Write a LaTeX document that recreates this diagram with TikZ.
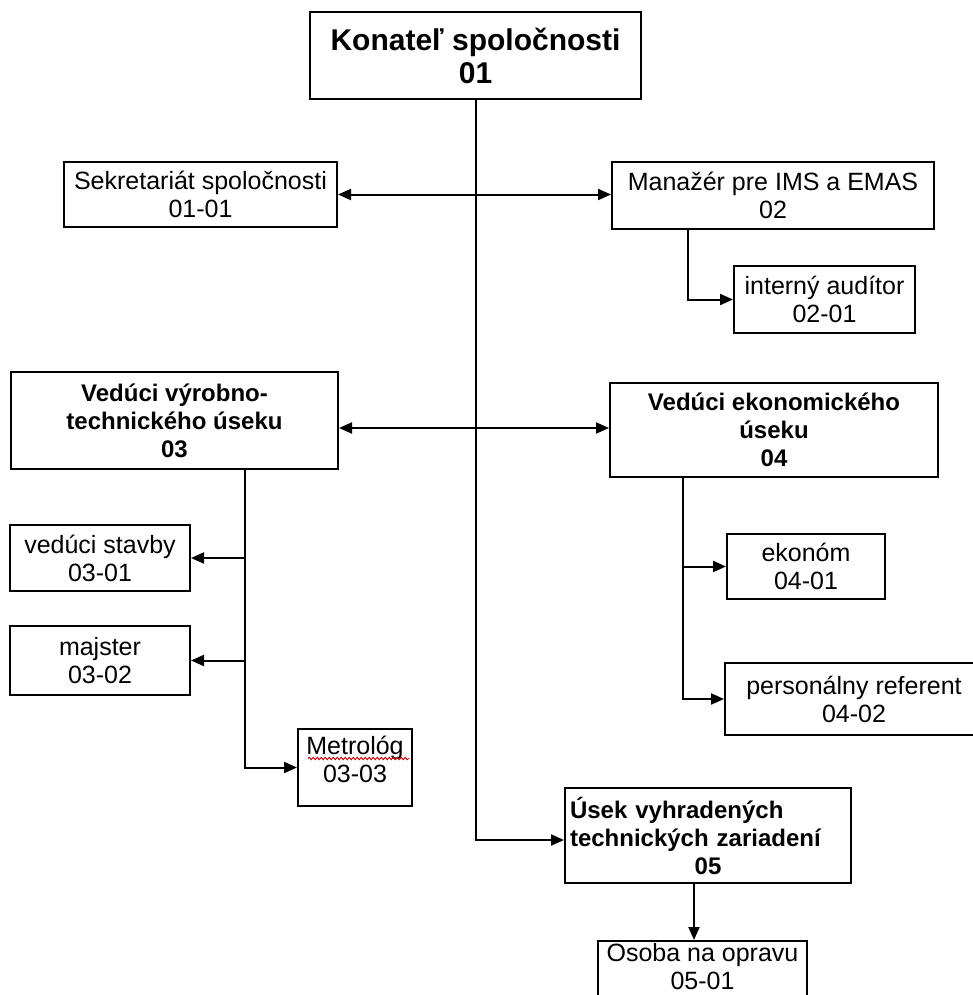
\documentclass[tikz,border=0pt]{standalone}
\usepackage{fontspec}
\setmainfont{Liberation Sans}
\usetikzlibrary{positioning,arrows.meta,decorations.pathmorphing}

\begin{document}
\begin{tikzpicture}[
        box/.style={rectangle, draw, line width=2pt, align=center, inner sep=2pt, font=\fontsize{25}{28}\selectfont},
        head/.style={box, font=\fontsize{24}{28}\selectfont\bfseries},
        arr/.style={-{Triangle[length=13pt, width=11pt]}, line width=2pt},
        dblarr/.style={{Triangle[length=13pt, width=11pt]}-{Triangle[length=13pt, width=11pt]}, line width=2pt},
        squiggle/.style={red!80!black, line width=0.9pt, decorate, decoration={snake, amplitude=1.2pt, segment length=4pt}},
    ]
    \useasboundingbox (0,0) rectangle (972pt,-995pt);

    % ----- Top level -----
    \node[head, font=\fontsize{30}{33}\selectfont\bfseries, minimum width=331pt, minimum height=87pt] (top) at (475.5pt,-55.5pt) {Konateľ spoločnosti\\01};

    \node[box, minimum width=273pt, minimum height=65pt] (sekr) at (200.5pt,-194.5pt) {Sekretariát spoločnosti\\01-01};
    \node[box, minimum width=322pt, minimum height=67pt, right=273pt of sekr, yshift=-1pt] (ims) {Manažér pre IMS a EMAS\\02};
    \node[box, minimum width=181pt, minimum height=67pt, below right=35pt and 122pt of ims.south west] (audit) {interný audítor\\02-01};

    \draw[dblarr] (sekr) -- (sekr -| ims.west);
    \draw[arr] ([xshift=-85pt]ims.south) |- (audit.west);

    % ----- Sections -----
    \node[head, minimum width=327pt, minimum height=97pt] (vyr) at (174.5pt,-420.5pt) {Vedúci výrobno-\\technického úseku\\03};
    \node[head, minimum width=328pt, minimum height=94pt, right=270pt of vyr, yshift=-9.5pt] (eko) {Vedúci ekonomického\\úseku\\04};

    \draw[dblarr] (vyr.east |- 0,-428pt) -- (eko.west |- 0,-428pt);

    % production branch
    \node[box, minimum width=180pt, minimum height=66pt, below right=54pt and -1pt of vyr.south west] (stavby) {vedúci stavby\\03-01};
    \node[box, minimum width=180pt, minimum height=69pt, below=33pt of stavby] (majster) {majster\\03-02};
    \node[box, minimum width=114pt, minimum height=77pt, text depth=17pt, below right=32pt and 106pt of majster.south east] (metro) {Metrológ\\03-03};
    \draw[squiggle] ([xshift=-47pt,yshift=9pt]metro.center) -- ([xshift=54pt,yshift=9pt]metro.center);

    \coordinate (vyrline) at ([xshift=70.5pt]vyr.south);
    \draw[arr] (vyrline) |- (metro.west);
    \draw[arr] (vyrline |- stavby.east) -- (stavby.east);
    \draw[arr] (vyrline |- majster.east) -- (majster.east);

    % economic branch
    \node[box, minimum width=158pt, minimum height=65pt, below right=55pt and 117pt of eko.south west] (ekonom) {ekonóm\\04-01};
    \node[box, minimum width=258pt, minimum height=72pt, below right=62pt and -2pt of ekonom.south west] (pers) {personálny referent\\04-02};

    \coordinate (ekoline) at ([xshift=-91pt]eko.south);
    \draw[arr] (ekoline) |- (pers.west);
    \draw[arr] (ekoline |- ekonom.west) -- (ekonom.west);

    % ----- Technical equipment -----
    \node[head, text width=276pt, inner xsep=5pt, align=left, minimum height=95pt] (usek) at (708pt,-835.5pt) {Úsek vyhradených\\technických zariadení\\\makebox[\linewidth]{05}};
    \node[box, minimum width=209pt, minimum height=62pt, text depth=15pt, below=56pt of usek, xshift=-5.5pt] (osoba) {Osoba na opravu\\05-01};

    \draw[arr] (top.south) |- ([yshift=-4.5pt]usek.west);
    \draw[arr] ([xshift=-8.5pt]osoba.north |- usek.south) -- ([xshift=-8.5pt]osoba.north);

\end{tikzpicture}
\end{document}
